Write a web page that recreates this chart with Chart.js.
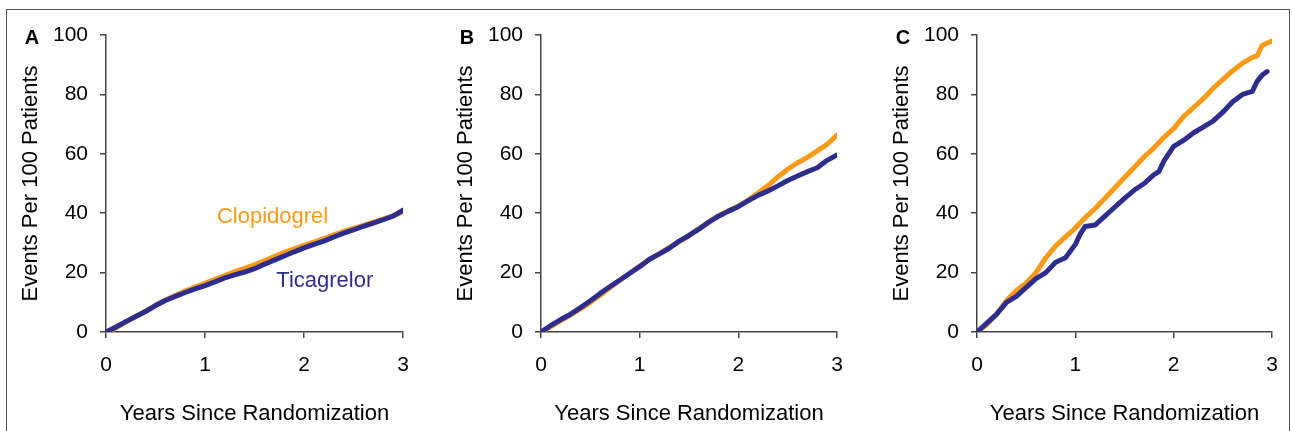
<!DOCTYPE html>
<html>
<head>
<meta charset="utf-8">
<script src="https://cdn.jsdelivr.net/npm/chart.js@4.4.1/dist/chart.umd.min.js"></script>
<style>
body{margin:0;background:#fff;width:1293px;height:431px;overflow:hidden;position:relative;}
.frame{position:absolute;left:6px;top:9px;width:1282px;height:450px;border:1.5px solid #555;border-bottom:none;}
.panel{position:absolute;top:0;height:431px;}
</style>
</head>
<body>
<div class="frame"></div>
<div class="panel" style="left:0;width:431px"><canvas id="chartA"></canvas></div>
<div class="panel" style="left:435px;width:431px"><canvas id="chartB"></canvas></div>
<div class="panel" style="left:871px;width:422px"><canvas id="chartC"></canvas></div>
<script>
// years since randomization
const yearsAB = [0,0.1,0.2,0.3,0.4,0.5,0.6,0.7,0.8,0.9,1.0,1.1,1.2,1.3,1.4,1.5,1.6,1.7,1.8,1.9,2.0,2.1,2.2,2.3,2.4,2.5,2.6,2.7,2.8,2.9,3.0];
const yearsC = [0,0.1,0.2,0.3,0.4,0.5,0.6,0.7,0.8,0.9,1.0,1.05,1.1,1.2,1.3,1.4,1.5,1.6,1.7,1.8,1.85,1.9,2.0,2.1,2.2,2.3,2.4,2.5,2.6,2.7,2.8,2.85,2.9,2.95,3.0];

// events per 100 patients
const ticaA = [0,1.7,3.5,5.2,6.9,8.9,10.6,12.0,13.3,14.5,15.6,16.9,18.2,19.2,20.2,21.3,22.8,24.2,25.6,27.0,28.3,29.5,30.6,32.0,33.3,34.4,35.6,36.7,37.8,39.0,41.0];
const clopA = [0,1.4,3.3,5.2,7.0,9.0,10.8,12.3,13.8,15.1,16.4,17.7,19.0,20.3,21.4,22.6,24.0,25.4,26.8,28.0,29.2,30.3,31.4,32.7,33.9,34.9,35.9,37.0,38.0,39.2,40.6];

const ticaB = [0,2.2,4.2,6.0,8.2,10.5,13.0,15.3,17.5,19.8,22.0,24.5,26.3,28.2,30.6,32.5,34.6,37.0,39.0,40.7,42.2,44.2,46.0,47.5,49.2,51.0,52.5,54.0,55.3,57.8,59.6];
const clopB = [0,1.8,3.8,5.8,7.8,10.0,12.4,15.0,17.5,19.8,22.2,24.5,26.3,28.5,30.4,32.4,34.8,37.0,39.2,40.8,42.4,44.4,46.8,49.3,52.2,54.8,57.0,58.8,61.0,63.2,66.3];

const ticaC = [0,3,6,10,12,15,18,20,23.5,25,29.5,33,35.5,36,39,42,45,47.8,50,53,54,57.5,62.5,64.5,67,69,71,74,77.5,80,81,84.5,86.5,87.7,null];
const clopC = [0,2.5,6,10.5,14,16.5,20,25,29,32,35,36.8,38.5,41.5,45,48.5,52,55.5,59,62,63.8,65.5,68.5,72.5,75.5,78.5,82,85,88,90.5,92.5,93,96.5,97.3,98];

const yTicks = [0,20,40,60,80,100];
const xTicks = [0,1,2,3];

const ORANGE = '#FB9A18';
const BLUE = '#2D2D8E';
const FONT = '"Liberation Sans", Arial, sans-serif';

function toPoints(xs, ys) {
  return xs.map((x, i) => ({x: x, y: ys[i]})).filter(p => p.y !== null);
}

const panelText = {
  id: 'panelText',
  afterDraw(chart, args, opts) {
    const c = chart.ctx;
    c.save();
    c.fillStyle = '#000';
    c.font = 'bold 20px ' + FONT;
    c.textAlign = 'center';
    c.textBaseline = 'middle';
    c.fillText(opts.letter, 32, 38);
    c.font = '22px ' + FONT;
    c.textAlign = 'left';
    c.textBaseline = 'alphabetic';
    (opts.notes || []).forEach(n => {
      c.fillStyle = n.color;
      c.fillText(n.text, chart.scales.x.getPixelForValue(n.x), chart.scales.y.getPixelForValue(n.y));
    });
    c.restore();
  }
};

function makeChart(id, years, tica, clop, letter, padRight, notes) {
  const ctx = document.getElementById(id).getContext('2d');
  return new Chart(ctx, {
    type: 'line',
    data: {
      datasets: [
        {label: 'Ticagrelor', data: toPoints(years, tica), borderColor: BLUE},
        {label: 'Clopidogrel', data: toPoints(years, clop), borderColor: ORANGE}
      ]
    },
    plugins: [panelText],
    options: {
      responsive: true,
      maintainAspectRatio: false,
      animation: false,
      devicePixelRatio: 1,
      layout: {padding: {left: 0, top: 35, right: padRight, bottom: 0}},
      elements: {
        point: {radius: 0},
        line: {borderWidth: 5, tension: 0, borderCapStyle: 'round', borderJoinStyle: 'round', fill: false}
      },
      plugins: {
        legend: {display: false},
        tooltip: {enabled: false},
        panelText: {letter: letter, notes: notes}
      },
      scales: {
        x: {
          type: 'linear', min: 0, max: 3,
          afterBuildTicks: s => { s.ticks = xTicks.map(v => ({value: v})); },
          ticks: {color: '#000', font: {family: FONT, size: 21}, padding: 15},
          grid: {drawOnChartArea: false, tickLength: 6, color: '#444', lineWidth: 1.5},
          border: {color: '#444', width: 1.5},
          title: {display: true, text: 'Years Since Randomization', color: '#000',
                  font: {family: FONT, size: 22}, padding: {top: 0, bottom: 4}},
          afterFit: s => { s.height = 99; }
        },
        y: {
          min: 0, max: 100,
          afterBuildTicks: s => { s.ticks = yTicks.map(v => ({value: v})); },
          ticks: {color: '#000', font: {family: FONT, size: 21}, padding: 12},
          grid: {drawOnChartArea: false, tickLength: 6, color: '#444', lineWidth: 1.5},
          border: {color: '#444', width: 1.5},
          title: {display: true, text: 'Events Per 100 Patients', color: '#000',
                  font: {family: FONT, size: 22}, padding: {top: 18, bottom: 0}},
          afterFit: s => { s.width = 106; }
        }
      }
    }
  });
}

makeChart('chartA', yearsAB, ticaA, clopA, 'A', 28, [
  {text: 'Clopidogrel', x: 1.12, y: 36.7, color: ORANGE},
  {text: 'Ticagrelor', x: 1.72, y: 15.2, color: BLUE}
]);
makeChart('chartB', yearsAB, ticaB, clopB, 'B', 29, []);
makeChart('chartC', yearsC, ticaC, clopC, 'C', 21, []);
</script>
</body>
</html>
